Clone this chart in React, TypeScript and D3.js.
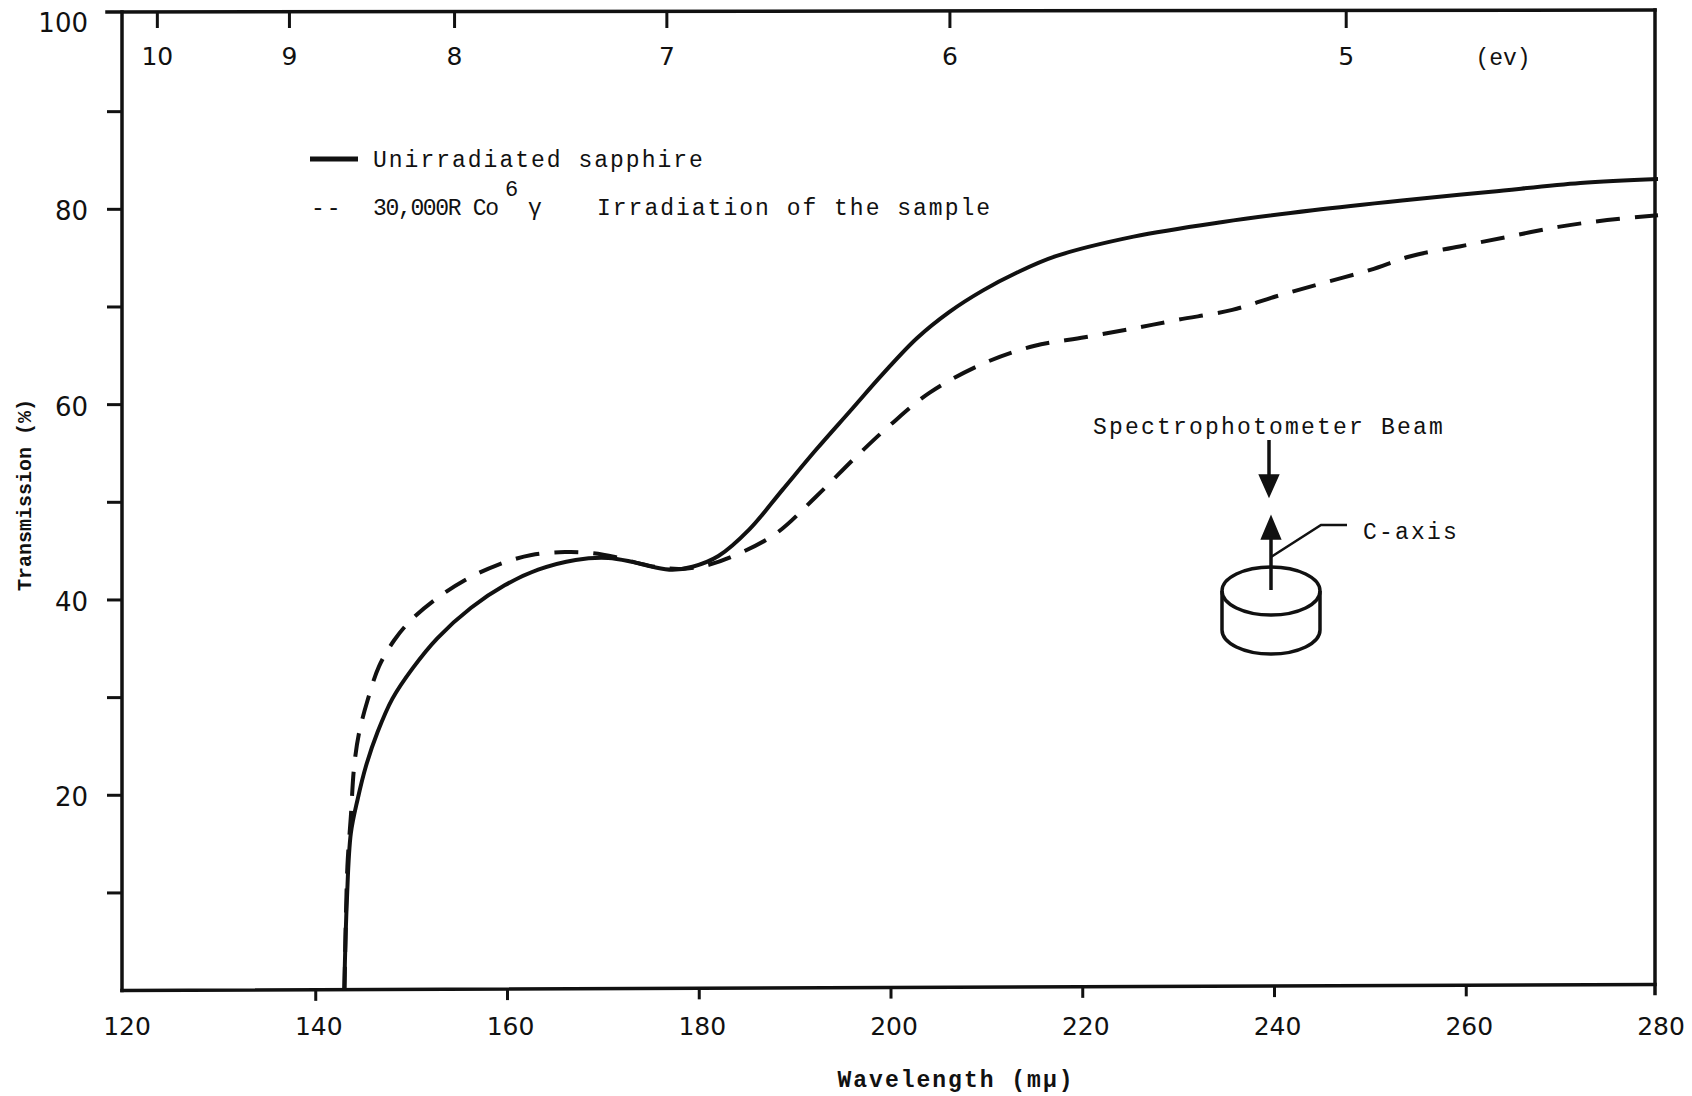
import React from "react";
import * as d3 from "d3";

// Wavelength (mμ) and transmission (%) for the unirradiated sample
const solidWavelength = [
  142.97, 143.25, 143.66, 144.37, 145.24, 146.46, 148.0, 150.1, 152.7, 156.2,
  159.7, 163.2, 167.1, 170.5, 173.0, 175.1, 177.2, 179.3, 182.0, 185.2, 188.7,
  192.2, 195.7, 199.2, 202.7, 206.1, 209.6, 213.1, 217.2, 225.3, 234.6, 244.0,
  253.3, 262.6, 271.9, 280.0,
];
const solidTransmission = [
  0, 9.3, 16.1, 19.6, 23.0, 26.5, 29.9, 33.0, 36.1, 39.2, 41.5, 43.1, 44.1,
  44.3, 43.9, 43.4, 43.1, 43.4, 44.5, 47.2, 51.3, 55.4, 59.3, 63.2, 66.8, 69.5,
  71.7, 73.5, 75.2, 77.2, 78.7, 79.9, 80.9, 81.8, 82.7, 83.1,
];

// Wavelength (mμ) and transmission (%) after 30,000R gamma irradiation
const dashedWavelength = [
  143.0, 143.3, 143.66, 144.0, 144.5, 145.4, 146.6, 148.2, 149.9, 152.4, 155.5,
  159.0, 162.5, 166.0, 168.8, 171.2, 173.5, 176.0, 178.5, 181.0, 183.8, 188.0,
  192.2, 196.4, 199.9, 204.0, 209.6, 214.9, 220.2, 225.3, 230.0, 235.6, 240.2,
  244.9, 250.0, 254.2, 259.3, 264.4, 269.6, 274.7, 280.0,
];
const dashedTransmission = [
  0, 12.7, 17.8, 22.9, 26.3, 29.7, 33.2, 35.9, 37.9, 40.0, 42.0, 43.6, 44.6,
  44.9, 44.8, 44.4, 43.8, 43.3, 43.2, 43.6, 44.6, 46.8, 50.6, 54.7, 57.9, 61.2,
  64.2, 66.0, 66.9, 67.8, 68.7, 69.7, 71.1, 72.4, 73.8, 75.2, 76.2, 77.2, 78.2,
  78.9, 79.4,
];

const xTicks = [120, 140, 160, 180, 200, 220, 240, 260, 280];
const yLabelTicks = [20, 40, 60, 80, 100];
const yMinorTicks = [10, 30, 50, 70, 90];
const evTicks = [10, 9, 8, 7, 6, 5];

const W = 1692;
const H = 1096;
const MONO = "'Liberation Mono', 'DejaVu Sans Mono', monospace";
const NUM = "'DejaVu Sans', 'Liberation Sans', sans-serif";

export default function App() {
  const x = d3.scaleLinear().domain([120, 280]).range([124, 1658]);
  const y = d3.scaleLinear().domain([0, 100]).range([990.6, 14]);

  const line = d3
    .line<[number, number]>()
    .x((d) => x(d[0]))
    .y((d) => y(d[1]))
    .curve(d3.curveCatmullRom.alpha(0.5));

  const solidPath = line(solidWavelength.map((w, i) => [w, solidTransmission[i]]) as [number, number][]);
  const dashedPath = line(dashedWavelength.map((w, i) => [w, dashedTransmission[i]]) as [number, number][]);

  const left = x(120) - 2;
  const right = 1655;
  const top = 12;
  const bottom = y(0);

  // sketch of the sample disc
  const cx = 1271;
  const cylTop = 591;
  const cylBot = 630;
  const rx = 49;
  const ry = 24;

  return (
    <svg
      width={W}
      height={H}
      viewBox={`0 0 ${W} ${H}`}
      style={{ position: "absolute", left: 0, top: 0, background: "#fff" }}
    >
      <rect x={0} y={0} width={W} height={H} fill="#fff" />

      {/* frame */}
      <g stroke="#111" strokeWidth={3.5} fill="none" strokeLinecap="square">
        <line x1={107} y1={top} x2={right} y2={top - 2} />
        <line x1={left} y1={top} x2={left} y2={bottom} />
        <line x1={left} y1={bottom} x2={right} y2={bottom - 6} />
        <line x1={right} y1={top - 2} x2={right} y2={bottom + 3} />
      </g>

      {/* left axis ticks */}
      <g stroke="#111" strokeWidth={3}>
        {[...yLabelTicks, ...yMinorTicks]
          .filter((v) => v !== 100)
          .map((v) => (
            <line key={v} x1={left - 15} x2={left} y1={y(v)} y2={y(v)} />
          ))}
      </g>
      <g fontFamily={NUM} fontSize={26} fill="#111" textAnchor="end">
        {yLabelTicks.map((v) => (
          <text key={v} x={88} y={y(v) + (v === 100 ? 18 : 11)}>
            {v}
          </text>
        ))}
      </g>

      {/* bottom axis ticks */}
      <g stroke="#111" strokeWidth={3}>
        {xTicks
          .filter((v) => v !== 120 && v !== 280)
          .map((v) => (
            <line
              key={v}
              x1={x(v)}
              x2={x(v)}
              y1={bottom - ((v - 120) / 160) * 6}
              y2={bottom - ((v - 120) / 160) * 6 + 11}
            />
          ))}
      </g>
      <g fontFamily={NUM} fontSize={25} fill="#111" textAnchor="middle">
        {xTicks.map((v) => (
          <text key={v} x={x(v) + 3} y={1035}>
            {v}
          </text>
        ))}
      </g>

      {/* photon energy scale along the top */}
      <g stroke="#111" strokeWidth={3}>
        {evTicks.map((e) => (
          <line key={e} x1={x(1240 / e) - 5} x2={x(1240 / e) - 5} y1={top} y2={top + 16} />
        ))}
      </g>
      <g fontFamily={NUM} fontSize={25} fill="#111" textAnchor="middle">
        {evTicks.map((e) => (
          <text key={e} x={x(1240 / e) - 5} y={65}>
            {e}
          </text>
        ))}
        <text x={1503} y={65} fontFamily={MONO} fontSize={23}>
          (ev)
        </text>
      </g>

      {/* axis titles */}
      <text
        fontFamily={MONO}
        fontSize={20}
        fontWeight="bold"
        letterSpacing={0}
        fill="#111"
        textAnchor="middle"
        transform={`translate(31, 495) rotate(-90)`}
      >
        Transmission (%)
      </text>
      <text
        x={956}
        y={1087}
        fontFamily={MONO}
        fontSize={23}
        letterSpacing={2}
        fill="#111"
        textAnchor="middle"
        fontWeight="bold"
      >
        Wavelength (mμ)
      </text>

      {/* curves */}
      <path d={solidPath ?? ""} fill="none" stroke="#111" strokeWidth={4} strokeLinejoin="round" />
      <path
        d={dashedPath ?? ""}
        fill="none"
        stroke="#111"
        strokeWidth={4}
        strokeDasharray="24 15"
        strokeLinejoin="round"
      />

      {/* legend */}
      <line x1={310} x2={358} y1={159} y2={159} stroke="#111" strokeWidth={5} />
      <g fontFamily={MONO} fontSize={23} letterSpacing={2} fill="#111">
        <text x={373} y={167}>Unirradiated sapphire</text>
        <text x={311} y={215}>--</text>
        <text x={373} y={215} letterSpacing={0} textLength={126} lengthAdjust="spacing">
          30,000R Co
        </text>
        <text x={505} y={196} fontSize={22}>6</text>
        <text x={528} y={215}>γ</text>
        <text x={597} y={215}>Irradiation of the sample</text>
      </g>

      {/* sample orientation sketch */}
      <g fontFamily={MONO} fontSize={23} letterSpacing={2.2} fill="#111">
        <text x={1093} y={434}>Spectrophotometer Beam</text>
        <text x={1363} y={539}>C-axis</text>
      </g>
      <g stroke="#111" strokeWidth={3.5} fill="none">
        <line x1={cx - 2} x2={cx - 2} y1={440} y2={484} />
        <path d={`M${cx - 10},476 L${cx - 2},494 L${cx + 6},476 Z`} fill="#111" />
        <line x1={cx} x2={cx} y1={590} y2={530} />
        <path d={`M${cx - 8},538 L${cx},519 L${cx + 8},538 Z`} fill="#111" />
        <polyline points={`${cx},557 ${cx + 50},525 ${cx + 76},525`} strokeWidth={2.5} />
        <ellipse cx={cx} cy={cylTop} rx={rx} ry={ry} />
        <line x1={cx - rx} x2={cx - rx} y1={cylTop} y2={cylBot} />
        <line x1={cx + rx} x2={cx + rx} y1={cylTop} y2={cylBot} />
        <path d={`M${cx - rx},${cylBot} A${rx},${ry} 0 0 0 ${cx + rx},${cylBot}`} />
      </g>
    </svg>
  );
}
